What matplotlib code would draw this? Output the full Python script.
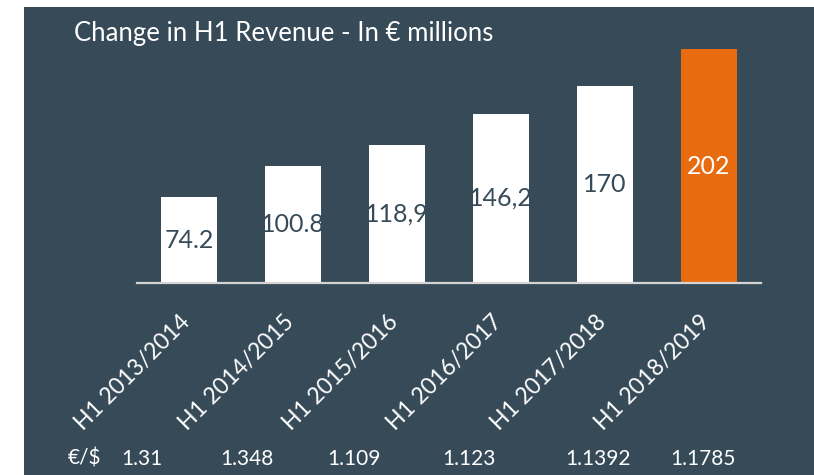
import matplotlib.pyplot as plt
from matplotlib.patches import Rectangle
from matplotlib.transforms import ScaledTranslation

plt.rcParams['font.family'] = ['Lato', 'DejaVu Sans']

periods = ['H1 2013/2014', 'H1 2014/2015', 'H1 2015/2016',
           'H1 2016/2017', 'H1 2017/2018', 'H1 2018/2019']
revenue = [74.2, 100.8, 118.9, 146.2, 170, 202]
revenue_labels = ['74.2', '100.8', '118,9', '146,2', '170', '202']
fx_rates = ['1.31', '1.348', '1.109', '1.123', '1.1392', '1.1785']

bg = '#364a58'
orange = '#e96b10'

fig = plt.figure(figsize=(8.14, 4.75), dpi=100)
fig.patch.set_facecolor('white')
fig.patches.append(Rectangle((24 / 814, 0), 1 - 24 / 814, 468 / 475,
                             transform=fig.transFigure, facecolor=bg,
                             edgecolor='none', zorder=-1))

ax = fig.add_axes([137 / 814, 192 / 475, 624 / 814, 234 / 475])
ax.set_zorder(2)
ax.patch.set_alpha(0)

x = range(len(periods))
colors = ['white'] * (len(periods) - 1) + [orange]
bars = ax.bar(x, revenue, width=0.53, color=colors, edgecolor='none')

for i, (bar, lbl) in enumerate(zip(bars, revenue_labels)):
    last = i == len(periods) - 1
    ax.text(bar.get_x() + bar.get_width() / 2, bar.get_height() / 2, lbl,
            ha='center', va='center', fontsize=18,
            color='white' if last else bg)

ax.set_xlim(-0.5, len(periods) - 0.5)
ax.set_ylim(0, max(revenue))
ax.set_yticks([])
ax.set_xticks(list(x))
ax.set_xticklabels(periods, rotation=45, ha='right', color='white', fontsize=16.5)
ax.tick_params(axis='x', length=0, pad=20)
shift = ScaledTranslation(5 / 100, 0, fig.dpi_scale_trans)
for t in ax.get_xticklabels():
    t.set_transform(t.get_transform() + shift)
for s in ['top', 'left', 'right']:
    ax.spines[s].set_visible(False)
ax.spines['bottom'].set_color('#d4d4d4')
ax.spines['bottom'].set_linewidth(1.6)

# exchange rate row under the axis
fx_shift = [-0.45, -0.44, -0.41, -0.31, -0.07, -0.06]
tr = ax.get_xaxis_transform()
ax.text(-1.0, -0.752, '€/$', transform=tr, ha='center', va='center',
        color='white', fontsize=15, clip_on=False)
for i, (r, dx) in enumerate(zip(fx_rates, fx_shift)):
    ax.text(i + dx, -0.752, r, transform=tr, ha='center', va='center',
            color='white', fontsize=15, clip_on=False)

fig.text(74 / 814, 1 - 33 / 475, 'Change in H1 Revenue - In € millions',
         ha='left', va='center', color='white', fontsize=18.5)

fig.savefig('out.png', dpi=100, facecolor=fig.get_facecolor())
